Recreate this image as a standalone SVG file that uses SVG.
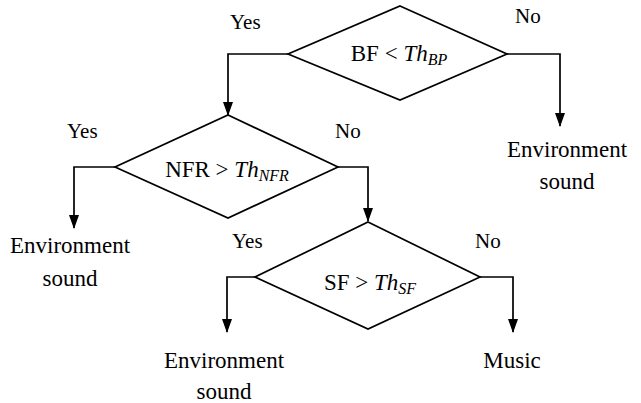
<svg xmlns="http://www.w3.org/2000/svg" width="641" height="403" viewBox="0 0 641 403">
  <style>
    .shape { fill: #fff; stroke: #000; stroke-width: 1.7; }
    .wire { fill: none; stroke: #000; stroke-width: 1.7; marker-end: url(#arrow); }
    text { font-family: "Liberation Serif", "Times New Roman", serif; fill: #000; }
    .cond { font-size: 23px; text-anchor: middle; }
    .sub { font-size: 16px; font-style: italic; }
    .lbl { font-size: 21px; }
    .out { font-size: 23px; text-anchor: middle; }
  </style>
  <defs>
    <!-- solid triangular arrowhead, tip at the end of the line -->
    <marker id="arrow" markerWidth="14" markerHeight="10" refX="13" refY="5" orient="auto" markerUnits="userSpaceOnUse" viewBox="0 0 14 10">
      <path d="M0,0 L14,5 L0,10 Z" fill="#000"/>
    </marker>
  </defs>

  <rect width="641" height="403" fill="#fff"/>

  <!-- connectors -->
  <g id="connectors">
    <polyline class="wire" points="288,54 228,54 228,115"/>
    <polyline class="wire" points="507,54 560,54 560,126"/>
    <polyline class="wire" points="115,167 74,167 74,228"/>
    <polyline class="wire" points="338,167 368,167 368,221"/>
    <polyline class="wire" points="255,277 227,277 227,332"/>
    <polyline class="wire" points="480,277 513,277 513,332"/>
  </g>

  <!-- decision: BF -->
  <g id="d-bf">
    <polygon class="shape" points="400,6 507,54 400,100 288,54"/>
    <text class="cond" x="399" y="61">BF &lt; <tspan font-style="italic">Th</tspan><tspan class="sub" dy="4">BP</tspan></text>
    <text class="lbl" x="230" y="29">Yes</text>
    <text class="lbl" x="515" y="23">No</text>
  </g>

  <!-- decision: NFR -->
  <g id="d-nfr">
    <polygon class="shape" points="228,115 338,167 228,218 115,167"/>
    <text class="cond" x="227" y="177">NFR &gt; <tspan font-style="italic">Th</tspan><tspan class="sub" dy="4">NFR</tspan></text>
    <text class="lbl" x="67" y="138">Yes</text>
    <text class="lbl" x="335" y="138">No</text>
  </g>

  <!-- decision: SF -->
  <g id="d-sf">
    <polygon class="shape" points="368,222 480,277 368,329 255,277"/>
    <text class="cond" x="370" y="290">SF &gt; <tspan font-style="italic">Th</tspan><tspan class="sub" dy="4">SF</tspan></text>
    <text class="lbl" x="232" y="248">Yes</text>
    <text class="lbl" x="475" y="248">No</text>
  </g>

  <!-- outcomes -->
  <g id="out-env-1">
    <text class="out" x="567" y="157">Environment</text>
    <text class="out" x="567" y="189">sound</text>
  </g>
  <g id="out-env-2">
    <text class="out" x="70" y="253">Environment</text>
    <text class="out" x="70" y="286">sound</text>
  </g>
  <g id="out-env-3">
    <text class="out" x="224" y="368">Environment</text>
    <text class="out" x="224" y="399">sound</text>
  </g>
  <g id="out-music">
    <text class="out" x="512" y="368">Music</text>
  </g>
</svg>
